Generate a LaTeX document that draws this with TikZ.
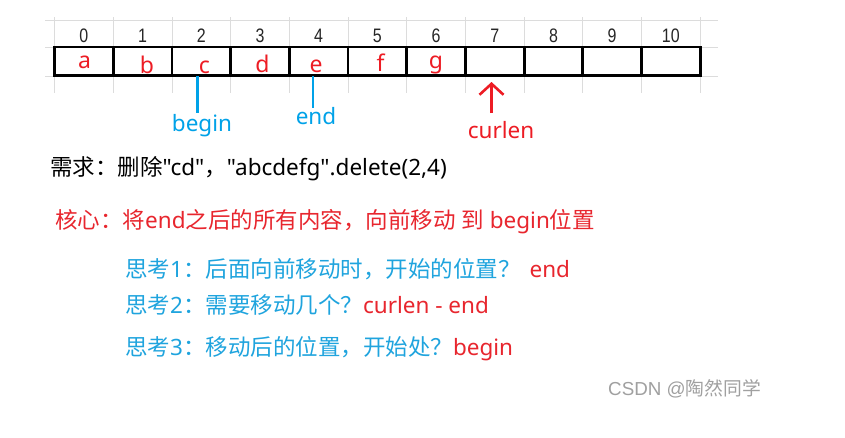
\documentclass[tikz,border=0pt]{standalone}
\usepackage{fontspec}
\setmainfont{Noto Sans CJK SC}[Ligatures=TeXOff]
\newfontfamily\latf{Noto Sans}[Ligatures=TeXOff]
\newfontfamily\arialf{Liberation Sans}[Ligatures=TeXOff]
\newfontfamily\digitfont{Liberation Sans}[FakeStretch=0.82]
\newcommand{\la}[1]{{\latf #1}}
\usetikzlibrary{arrows.meta}
\definecolor{pred}{HTML}{ED1C24}
\definecolor{pblue}{HTML}{00A2E8}
\definecolor{tblue}{HTML}{1FA4DE}
\definecolor{tred}{HTML}{E8262E}
\definecolor{gridgray}{HTML}{DCDCDC}
\definecolor{wm}{HTML}{A0A0A0}
\begin{document}
\begin{tikzpicture}[x=1pt,y=-1pt,
  gridline/.style={draw=gridgray, line width=0.8pt},
  cell/.style={draw=black, line width=2.8pt, minimum width=58.7pt, minimum height=28.7pt, inner sep=0pt},
  digit/.style={anchor=base, inner sep=0pt, font=\digitfont\fontsize{19.5}{21}\selectfont, text=black!85},
  letter/.style={anchor=base, inner sep=0pt, text=pred, font=\latf\fontsize{23}{25}\selectfont},
  txt/.style={anchor=base west, inner sep=0pt, font=\fontsize{22.5}{26}\selectfont},
  lbl/.style={anchor=base, inner sep=0pt, font=\latf\fontsize{22.5}{26}\selectfont},
  ptr/.style={line width=2.6pt}]
\useasboundingbox[fill=white] (0,0) rectangle (845,437);
% background spreadsheet grid
\foreach \k in {0,...,11} \draw[gridline] ({54.5+58.7*\k},17) -- ({54.5+58.7*\k},93);
\foreach \y in {20,47,76} \draw[gridline] (45,\y) -- (718,\y);
% cells and indices
\foreach \k in {0,...,10} {
  \node[cell] (c\k) at ({54.5+58.7*(\k+0.5)},61.4) {};
  \node[digit] (d\k) at ({54.5+58.7*(\k+0.5)},42) {\k};
}
% letters
\node[letter] (la) at (84.5,68) {a};
\node[letter] (lb) at (147,73) {b};
\node[letter] (lc) at (204.5,73) {c};
\node[letter] (ld) at (262.5,72) {d};
\node[letter] (le) at (316,72) {e};
\node[letter] (lf) at (380.5,71) {f};
\node[letter] (lg) at (436,68) {g};
% pointers
\coordinate (bt) at (197.5,76);
\coordinate (bb) at (197.5,113);
\draw[ptr, pblue] (bt) -- (bb);
\node[lbl, text=pblue] (begin) at (202,131.5) {begin};
\coordinate (et) at (313,76);
\coordinate (eb) at (313,108);
\draw[ptr, pblue] (et) -- (eb);
\node[lbl, text=pblue] (end) at (316,124) {end};
\coordinate (at) at (491.5,82);
\coordinate (ab) at (491.5,113);
\draw[ptr, pred, -{Straight Barb[length=11pt,width=24pt]}] (ab) -- (at);
\node[lbl, text=pred] (curlen) at (501,138) {curlen};
% texts
\node[txt] (req) at (50,175) {需求：删除\la{"cd"}，\la{"abcdefg".delete(2,4)}};
\node[txt, text=tred] (core) at (55,228) {核心：将\la{end}之后的所有内容，向前移动\la{ }到\la{ begin}位置};
\node[txt, text=tblue] (q1) at (125,277) {思考\la{1}：后面向前移动时，开始的位置？\hspace{9pt}\textcolor{tred}{\la{end}}};
\node[txt, text=tblue] (q2) at (125,313) {思考\la{2}：需要移动几个？\textcolor{tred}{\la{curlen - end}}};
\node[txt, text=tblue] (q3) at (125,355) {思考\la{3}：移动后的位置，开始处？\textcolor{tred}{\la{begin}}};
\node[txt, text=wm, font=\fontsize{18.8}{20}\selectfont] (wmk) at (608,395) {\arialf CSDN @\normalfont 陶然同学};
\end{tikzpicture}
\end{document}
